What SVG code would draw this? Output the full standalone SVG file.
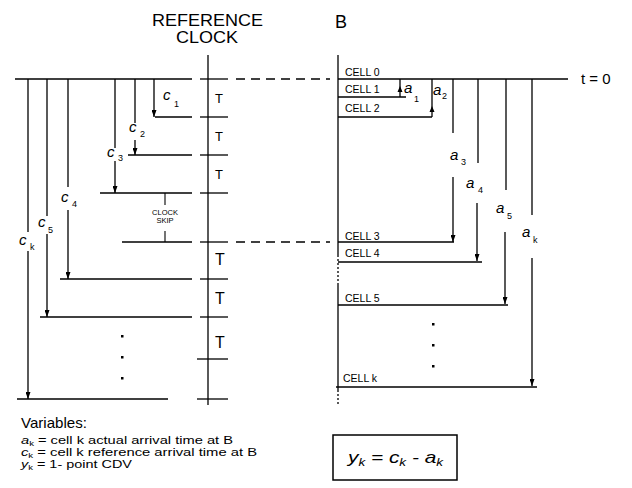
<svg xmlns="http://www.w3.org/2000/svg" width="632" height="488" viewBox="0 0 632 488">
<style>
.ln{stroke:#000;stroke-width:1.3;fill:none}
.th{stroke:#000;stroke-width:1.1;fill:none}
.dash{stroke-dasharray:9 6}
.dot{stroke-dasharray:2 2}
text{font-family:"Liberation Sans",Arial,sans-serif;fill:#000}
.hd{font-size:16.5px}
.var{font-style:italic;font-size:15px}
.sub{font-size:9px}
.cell{font-size:10.5px}
.T{font-size:13px}
.T2{font-size:16px}
.leg{font-size:11.5px}
.lsub{font-size:7.5px}
</style>
<defs>
<marker id="ah" viewBox="0 0 7 5" refX="7" refY="2.5" markerWidth="7" markerHeight="5" markerUnits="userSpaceOnUse" orient="auto">
<path d="M0,0 L7,2.5 L0,5 z" fill="#000"/>
</marker>
</defs>
<rect width="632" height="488" fill="#fff"/>

<g id="title">
<text class="hd" x="152" y="26" textLength="111" lengthAdjust="spacingAndGlyphs">REFERENCE</text>
<text class="hd" x="176" y="43" textLength="62" lengthAdjust="spacingAndGlyphs">CLOCK</text>
<text x="335" y="28" font-size="18">B</text>
<text x="581" y="84" font-size="15">t = 0</text>
</g>

<g id="clock">
<line class="ln" x1="208" y1="55" x2="208" y2="405"/>
<g class="ln">
<line x1="200" y1="79" x2="228" y2="79"/>
<line x1="200" y1="117" x2="228" y2="117"/>
<line x1="200" y1="155" x2="228" y2="155"/>
<line x1="200" y1="193" x2="228" y2="193"/>
<line x1="200" y1="242" x2="228" y2="242"/>
<line x1="200" y1="279" x2="228" y2="279"/>
<line x1="200" y1="317" x2="228" y2="317"/>
<line x1="197" y1="359" x2="228" y2="359"/>
<line x1="197" y1="399" x2="228" y2="399"/>
</g>
<text class="T" x="215" y="103">T</text>
<text class="T" x="215" y="141">T</text>
<text class="T" x="215" y="179">T</text>
<text class="T2" x="215" y="265">T</text>
<text class="T2" x="215" y="304">T</text>
<text class="T2" x="215" y="348">T</text>
</g>

<g id="reference-lines">
<g class="ln">
<line x1="15" y1="79" x2="192" y2="79"/>
<line x1="155" y1="117" x2="192" y2="117"/>
<line x1="128" y1="155" x2="192" y2="155"/>
<line x1="100" y1="193" x2="192" y2="193"/>
<line x1="122" y1="242" x2="192" y2="242"/>
<line x1="60" y1="279" x2="192" y2="279"/>
<line x1="40" y1="317" x2="192" y2="317"/>
<line x1="17" y1="399" x2="168" y2="399"/>
</g>
<g id="clock-skip">
<line class="th" x1="165" y1="193" x2="165" y2="205"/>
<line class="th" x1="165" y1="231" x2="165" y2="242"/>
<text x="165" y="215" font-size="7.5" text-anchor="middle">CLOCK</text>
<text x="165" y="223" font-size="7.5" text-anchor="middle">SKIP</text>
</g>
<g id="dots-left" fill="#000">
<rect x="121" y="335" width="2.5" height="2.5"/>
<rect x="121" y="356" width="2.5" height="2.5"/>
<rect x="121" y="377" width="2.5" height="2.5"/>
</g>
</g>

<g id="cells">
<line class="ln" x1="338" y1="55" x2="338" y2="255"/>
<line class="ln dot" x1="338" y1="255" x2="338" y2="283"/>
<line class="ln" x1="338" y1="283" x2="338" y2="390"/>
<line class="ln dot" x1="338" y1="390" x2="338" y2="405"/>
<g class="ln">
<line x1="338" y1="79" x2="568" y2="79"/>
<line x1="338" y1="97" x2="406" y2="97"/>
<line x1="338" y1="117" x2="432" y2="117"/>
<line x1="338" y1="242" x2="454" y2="242"/>
<line x1="338" y1="262" x2="482" y2="262"/>
<line x1="338" y1="305" x2="508" y2="305"/>
<line x1="336" y1="387" x2="537" y2="387"/>
</g>
<text class="cell" x="345" y="76">CELL 0</text>
<text class="cell" x="345" y="93">CELL 1</text>
<text class="cell" x="345" y="112">CELL 2</text>
<text class="cell" x="345" y="240">CELL 3</text>
<text class="cell" x="345" y="257">CELL 4</text>
<text class="cell" x="345" y="302">CELL 5</text>
<text class="cell" x="343" y="382">CELL k</text>
<g id="dots-right" fill="#000">
<rect x="432" y="323" width="2.5" height="2.5"/>
<rect x="432" y="344" width="2.5" height="2.5"/>
<rect x="432" y="365" width="2.5" height="2.5"/>
</g>
</g>

<g id="connectors">
<line class="ln dash" x1="236" y1="79" x2="330" y2="79"/>
<line class="ln dash" x1="236" y1="242" x2="330" y2="242"/>
<line class="ln" x1="154" y1="79" x2="154" y2="117" marker-end="url(#ah)"/>
<line class="ln" x1="135" y1="79" x2="135" y2="123"/>
<line class="ln" x1="135" y1="140" x2="135" y2="155" marker-end="url(#ah)"/>
<line class="ln" x1="115" y1="79" x2="115" y2="148"/>
<line class="ln" x1="115" y1="161" x2="115" y2="193" marker-end="url(#ah)"/>
<line class="ln" x1="68" y1="79" x2="68" y2="187"/>
<line class="ln" x1="68" y1="210" x2="68" y2="279" marker-end="url(#ah)"/>
<line class="ln" x1="47" y1="79" x2="47" y2="216"/>
<line class="ln" x1="47" y1="234" x2="47" y2="317" marker-end="url(#ah)"/>
<line class="ln" x1="28" y1="79" x2="28" y2="232"/>
<line class="ln" x1="28" y1="251" x2="28" y2="399" marker-end="url(#ah)"/>
<line class="ln" x1="400" y1="79" x2="400" y2="97"/>
<path d="M397.5,92 L400,86 L402.5,92 z" fill="#000"/>
<line class="ln" x1="432" y1="79" x2="432" y2="117"/>
<path d="M429.5,112 L432,106 L434.5,112 z" fill="#000"/>
<line class="ln" x1="453" y1="79" x2="453" y2="133"/>
<line class="ln" x1="453" y1="177" x2="453" y2="242" marker-end="url(#ah)"/>
<line class="ln" x1="478" y1="79" x2="478" y2="163"/>
<line class="ln" x1="477" y1="203" x2="477" y2="261" marker-end="url(#ah)"/>
<line class="ln" x1="506" y1="79" x2="506" y2="190"/>
<line class="ln" x1="505" y1="232" x2="505" y2="304" marker-end="url(#ah)"/>
<line class="ln" x1="532" y1="79" x2="532" y2="215"/>
<line class="ln" x1="532" y1="258" x2="532" y2="386" marker-end="url(#ah)"/>
</g>

<g id="labels">
<text class="var" x="163" y="100">c</text><text class="sub" x="174" y="107">1</text>
<text class="var" x="129" y="132">c</text><text class="sub" x="140" y="137">2</text>
<text class="var" x="107" y="157">c</text><text class="sub" x="118" y="161">3</text>
<text class="var" x="61" y="202">c</text><text class="sub" x="72" y="207">4</text>
<text class="var" x="38" y="227">c</text><text class="sub" x="48" y="233">5</text>
<text class="var" x="19" y="245">c</text><text class="sub" x="30" y="250">k</text>
<text class="var" x="404" y="93">a</text><text class="sub" x="414" y="102">1</text>
<text class="var" x="433" y="95">a</text><text class="sub" x="442" y="99">2</text>
<text class="var" x="450" y="160">a</text><text class="sub" x="461" y="165">3</text>
<text class="var" x="466" y="188">a</text><text class="sub" x="478" y="193">4</text>
<text class="var" x="496" y="213">a</text><text class="sub" x="507" y="219">5</text>
<text class="var" x="522" y="237">a</text><text class="sub" x="533" y="243">k</text>
</g>

<g id="legend">
<text x="21" y="428" font-size="15" textLength="66" lengthAdjust="spacingAndGlyphs">Variables:</text>
<text class="leg" x="21" y="444" textLength="212" lengthAdjust="spacingAndGlyphs"><tspan font-style="italic">a</tspan><tspan class="lsub" dy="1.5">k</tspan><tspan dy="-1.5"> = cell k actual arrival time at B</tspan></text>
<text class="leg" x="21" y="456" textLength="236" lengthAdjust="spacingAndGlyphs"><tspan font-style="italic">c</tspan><tspan class="lsub" dy="1.5">k</tspan><tspan dy="-1.5"> = cell k reference arrival time at B</tspan></text>
<text class="leg" x="21" y="468" textLength="111" lengthAdjust="spacingAndGlyphs"><tspan font-style="italic">y</tspan><tspan class="lsub" dy="1.5">k</tspan><tspan dy="-1.5"> = 1- point CDV</tspan></text>
</g>

<g id="formula">
<rect x="333" y="435" width="124" height="45" fill="none" stroke="#000" stroke-width="1.5"/>
<text x="348" y="463" font-size="17" font-style="italic" textLength="95" lengthAdjust="spacingAndGlyphs">y<tspan font-size="11" dy="3">k</tspan><tspan dy="-3"> = c</tspan><tspan font-size="11" dy="3">k</tspan><tspan dy="-3"> - a</tspan><tspan font-size="11" dy="3">k</tspan></text>
</g>
</svg>
